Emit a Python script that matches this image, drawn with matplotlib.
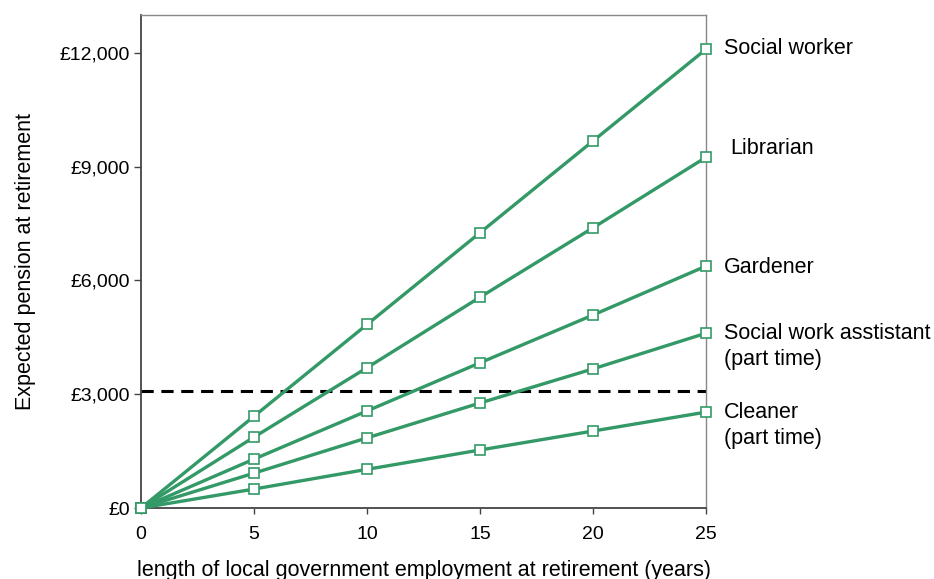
import matplotlib
matplotlib.use("Agg")
import matplotlib.pyplot as plt

years = [0, 5, 10, 15, 20, 25]
social_worker = [0, 2420, 4840, 7260, 9680, 12100]
librarian = [0, 1870, 3700, 5560, 7390, 9250]
gardener = [0, 1290, 2560, 3830, 5090, 6380]
sw_assistant = [0, 920, 1850, 2770, 3670, 4610]
cleaner = [0, 500, 1020, 1530, 2030, 2530]
threshold = 3090

series = [
    ("Social worker", social_worker, 0),
    ("Librarian", librarian, 4.5),
    ("Gardener", gardener, 0),
    ("Social work asstistant\n(part time)", sw_assistant, 0),
    ("Cleaner\n(part time)", cleaner, 0),
]
label_y = [12120, 9480, 6340, 4250, 2170]

plt.rcParams.update({
    "font.family": ["Liberation Sans", "DejaVu Sans"],
    "font.size": 14,
})

GREEN = "#339966"

fig = plt.figure(figsize=(9.34, 5.79), dpi=100)
ax = fig.add_axes([0.151, 0.1226, 0.605, 0.8515])

ax.plot([0, 25], [threshold, threshold], color="black", linestyle=(0, (4, 2.5)),
        linewidth=2.2, zorder=2)

for (name, vals, dx), ly in zip(series, label_y):
    ax.plot(years, vals, color=GREEN, linewidth=2.4, marker="s", markersize=7,
            markerfacecolor="white", markeredgecolor=GREEN, markeredgewidth=1.2,
            zorder=3, clip_on=False)
    ax.annotate(name, xy=(25, ly), xytext=(13 + dx, 0), textcoords="offset points",
                ha="left", va="center", fontsize=15.5, linespacing=1.3,
                annotation_clip=False)

ax.set_xlim(0, 25)
ax.set_ylim(0, 13000)
ax.set_xticks([0, 5, 10, 15, 20, 25])
ax.set_yticks([0, 3000, 6000, 9000, 12000])
ax.set_yticklabels(["£0", "£3,000", "£6,000", "£9,000", "£12,000"])

for side in ("left", "bottom"):
    ax.spines[side].set_color("#444444")
    ax.spines[side].set_linewidth(1.3)
for side in ("top", "right"):
    ax.spines[side].set_color("#888888")
    ax.spines[side].set_linewidth(1.0)

ax.tick_params(axis="y", direction="out", length=5, width=1, color="#444444", pad=3)
ax.tick_params(axis="x", direction="out", length=4, width=1, color="#444444", pad=9)

ax.set_xlabel("length of local government employment at retirement (years)",
              fontsize=15.5, labelpad=12)
ax.set_ylabel("Expected pension at retirement", fontsize=15.5, labelpad=17)

fig.savefig("out.png", dpi=100)
